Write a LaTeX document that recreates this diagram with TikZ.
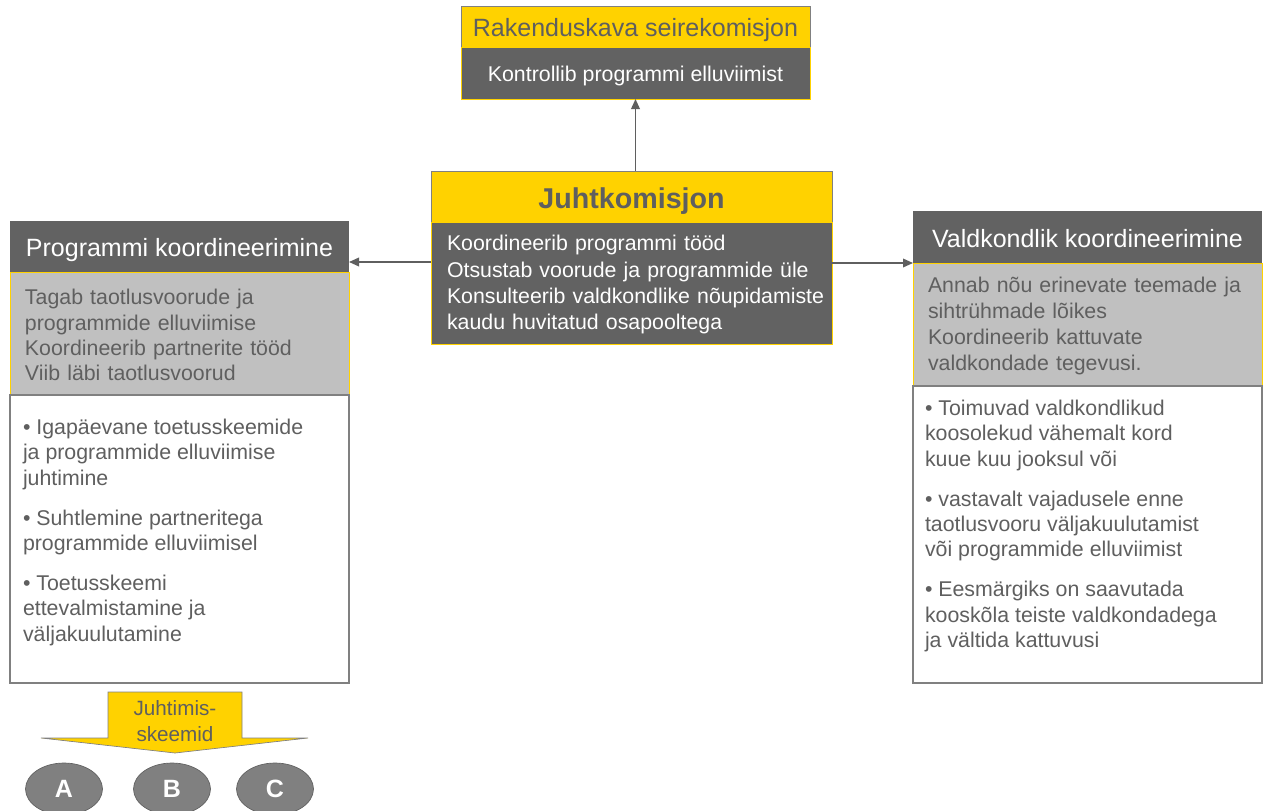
\documentclass[tikz,border=0pt]{standalone}
\usepackage{fontspec}
\setmainfont{Liberation Sans}
\usetikzlibrary{positioning,arrows.meta,shapes.geometric}

\definecolor{kollane}{RGB}{255,210,0}
\definecolor{tumehall}{RGB}{98,98,98}
\definecolor{helehall}{RGB}{192,192,192}
\definecolor{tekstihall}{RGB}{95,95,95}
\definecolor{joon}{RGB}{128,128,128}

\begin{document}
\begin{tikzpicture}[x=0.75pt, y=-0.75pt,
    every node/.style = {inner sep=0pt, outer sep=0pt},
    pealkiri/.style = {fill=kollane, draw=joon, line width=0.6pt,
            text=tekstihall, font=\fontsize{18.75}{22}\selectfont,
            text height=15pt, text depth=0pt},
    tume/.style = {fill=tumehall, draw=kollane, line width=0.6pt,
            text=white, align=left, font=\fontsize{16}{19.75}\selectfont},
    tumepea/.style = {fill=tumehall, text=white,
            font=\fontsize{18.75}{22}\selectfont,
            text height=15pt, text depth=0pt},
    hallkast/.style = {fill=helehall, draw=kollane, line width=0.6pt,
            text=tekstihall, align=left, font=\fontsize{16}{19}\selectfont},
    valge/.style = {fill=white, draw=joon, line width=0.8pt},
    loend/.style = {text=tekstihall, align=left,
            font=\fontsize{16}{19}\selectfont},
    nool/.style = {draw=tekstihall, line width=1.1pt,
            -{Triangle[length=7.5pt, width=6.5pt]}},
    ovaal/.style = {ellipse, fill=joon, draw=tekstihall, line width=0.5pt,
            text=white, minimum width=57.75pt, minimum height=39pt,
            font=\fontsize{18.75}{22}\selectfont\bfseries}
  ]
\useasboundingbox (0,0) rectangle (1265,811);

% seirekomisjon
\node[pealkiri, anchor=north west, minimum width=261.75pt, minimum height=30.75pt]
    (seireP) at (461,6) {Rakenduskava seirekomisjon};
\node[tume, below=0pt of seireP, minimum width=261.75pt, minimum height=39pt,
      text height=13pt, text depth=0pt]
    (seireS) {Kontrollib programmi elluviimist};

% juhtkomisjon
\node[pealkiri, anchor=north west, minimum width=300.75pt, minimum height=38.25pt,
      font=\fontsize{21.5}{24}\selectfont\bfseries, text height=17.5pt]
    (juhtP) at (431,171) {Juhtkomisjon};
\node[tume, below=0pt of juhtP, text width=276.75pt, inner xsep=12pt,
      minimum height=91.5pt, text height=14.5pt]
    (juhtS) {Koordineerib programmi tööd\\
             Otsustab voorude ja programmide üle\\
             \mbox{Konsulteerib valdkondlike nõupidamiste}\\
             kaudu huvitatud osapooltega};

% programmi koordineerimine
\node[tumepea, anchor=north west, minimum width=254.25pt, minimum height=38.25pt]
    (progP) at (10,221) {Programmi koordineerimine};
\node[hallkast, below=0pt of progP, text width=231.75pt, inner xsep=11.25pt,
      minimum height=92.25pt, text height=14pt]
    (progS) {Tagab taotlusvoorude ja\\
             programmide elluviimise\\
             Koordineerib partnerite tööd\\
             Viib läbi taotlusvoorud};
\node[valge, below=0pt of progS, minimum width=254.25pt, minimum height=216pt] (progT) {};
\node[loend, below right=18pt and 9.75pt of progT.north west, anchor=north west]
    (progL) {• Igapäevane toetusskeemide\\
             ja programmide elluviimise\\
             juhtimine\\[11pt]
             • Suhtlemine partneritega\\
             programmide elluviimisel\\[11pt]
             • Toetusskeemi\\
             ettevalmistamine ja\\
             väljakuulutamine};

% valdkondlik koordineerimine
\node[tumepea, anchor=north west, minimum width=261.75pt, minimum height=39pt]
    (valdP) at (913,211) {Valdkondlik koordineerimine};
\node[hallkast, below=0pt of valdP, text width=239.25pt, inner xsep=11.25pt,
      minimum height=92.25pt, font=\fontsize{16}{19.5}\selectfont, text height=14.5pt]
    (valdS) {Annab nõu erinevate teemade ja\\
             sihtrühmade lõikes\\
             Koordineerib kattuvate\\
             valdkondade tegevusi.};
\node[valge, below=0pt of valdS, minimum width=261.75pt, minimum height=222.75pt] (valdT) {};
\node[loend, below right=10.5pt and 9pt of valdT.north west, anchor=north west]
    (valdL) {• Toimuvad valdkondlikud\\
             koosolekud vähemalt kord\\
             kuue kuu jooksul või\\[11pt]
             • vastavalt vajadusele enne\\
             taotlusvooru väljakuulutamist\\
             või programmide elluviimist\\[11pt]
             • Eesmärgiks on saavutada\\
             kooskõla teiste valdkondadega\\
             ja vältida kattuvusi};

% nooled
\coordinate (vasakots) at ([yshift=7.5pt]progP.south east);
\draw[nool] (juhtP.north -| seireS.south) -- (seireS.south);
\draw[nool] (juhtS.west |- vasakots) -- (vasakots);
\draw[nool] (juhtS.east |- valdP.south west) -- (valdP.south west);

% juhtimisskeemid
\draw[fill=kollane, draw=joon, line width=0.5pt]
    (108,692) -- (242,692) -- (242,738) -- (308,738) -- (175,753)
    -- (41,738) -- (108,738) -- cycle;
\node[text=tekstihall, align=center, font=\fontsize{15.5}{19}\selectfont]
    (skeemid) at (175,721) {Juhtimis-\\skeemid};
\node[ovaal] (skeemA) at (64,789) {A};
\node[ovaal] (skeemB) at (172,789) {B};
\node[ovaal] (skeemC) at (275,789) {C};
\end{tikzpicture}
\end{document}
